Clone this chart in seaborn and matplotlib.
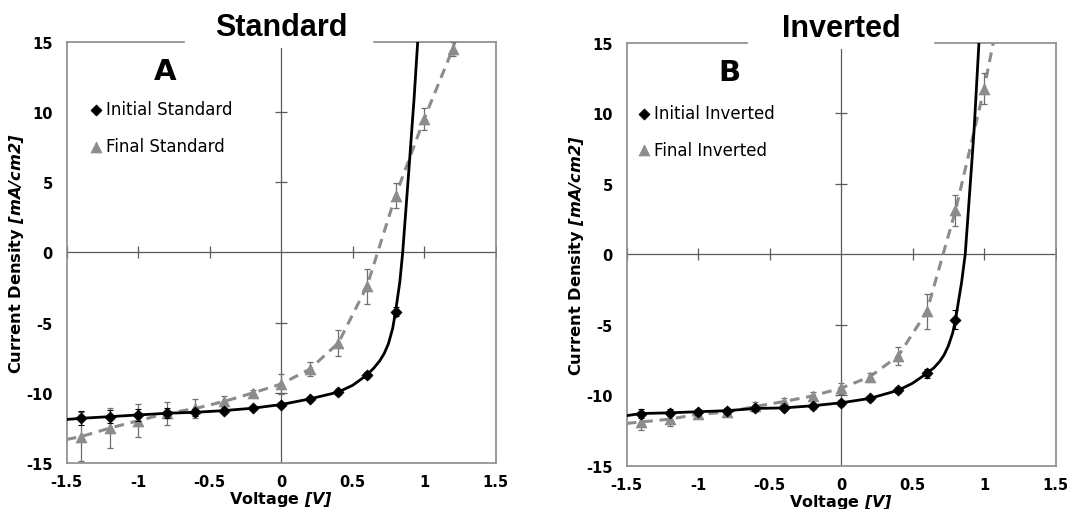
import matplotlib
matplotlib.use("Agg")
import matplotlib.pyplot as plt
import seaborn as sns
import numpy as np

# ---------------------------------------------------------------------------
# data (voltage in V, current density in mA/cm2)
# ---------------------------------------------------------------------------
v_pts = [-1.4, -1.2, -1.0, -0.8, -0.6, -0.4, -0.2, 0.0, 0.2, 0.4, 0.6, 0.8]
v_final_std = v_pts + [1.0, 1.2]
v_final_inv = v_pts + [1.0]

std_initial_j = [-11.8, -11.68, -11.56, -11.44, -11.37, -11.25, -11.08, -10.82,
                 -10.42, -9.93, -8.72, -4.21]
std_initial_err = [0.5, 0.45, 0.45, 0.35, 0.25, 0.2, 0.15, 0.2, 0.15, 0.2, 0.2, 0.3]
std_final_j = [-13.1, -12.5, -11.97, -11.45, -11.1, -10.6, -10.0, -9.36, -8.3,
               -6.44, -2.4, 4.04, 9.5, 14.48]
std_final_err = [1.75, 1.42, 1.19, 0.83, 0.7, 0.4, 0.25, 0.7, 0.5, 0.95, 1.25,
                 0.9, 0.77, 0.5]

inv_initial_j = [-11.3, -11.25, -11.17, -11.1, -10.94, -10.9, -10.75, -10.54,
                 -10.23, -9.65, -8.45, -4.64]
inv_initial_err = [0.3, 0.25, 0.2, 0.2, 0.2, 0.2, 0.2, 0.2, 0.2, 0.2, 0.3, 0.7]
inv_final_j = [-11.9, -11.7, -11.35, -11.2, -10.8, -10.45, -10.05, -9.5, -8.7,
               -7.21, -4.05, 3.1, 11.73]
inv_final_err = [0.6, 0.45, 0.2, 0.2, 0.3, 0.25, 0.3, 0.4, 0.3, 0.63, 1.23,
                 1.13, 1.1]

# fitted curves as drawn in the figure
std_fit_v = [-1.5, -1.4, -1.2, -1.0, -0.8, -0.6, -0.4, -0.2, 0.0, 0.2, 0.4, 0.5,
             0.6, 0.65, 0.69, 0.72, 0.75, 0.78, 0.8, 0.83, 0.85, 0.875, 0.9,
             0.93, 0.955]
std_fit_j = [-11.88, -11.8, -11.68, -11.56, -11.44, -11.37, -11.25, -11.08,
             -10.82, -10.42, -9.93, -9.45, -8.72, -8.2, -7.7, -7.2, -6.5, -5.4,
             -4.21, -2.1, 0.0, 3.4, 6.8, 11.0, 15.0]
inv_fit_v = [-1.5, -1.4, -1.2, -1.0, -0.8, -0.6, -0.4, -0.2, 0.0, 0.2, 0.4, 0.5,
             0.6, 0.65, 0.69, 0.72, 0.75, 0.78, 0.8, 0.843, 0.868, 0.9, 0.93,
             0.964]
inv_fit_j = [-11.45, -11.3, -11.25, -11.17, -11.1, -10.94, -10.9, -10.75, -10.54,
             -10.23, -9.65, -9.15, -8.45, -8.05, -7.6, -7.15, -6.5, -5.6, -4.64,
             -1.97, 0.0, 4.5, 8.8, 15.0]
std_dash_v = [-1.5] + v_final_std + [1.215]
std_dash_j = [-13.3] + std_final_j + [15.0]
inv_dash_v = [-1.5] + v_final_inv + [1.064]
inv_dash_j = [-12.0] + inv_final_j + [15.0]

x_ticks = [-1.5, -1, -0.5, 0, 0.5, 1, 1.5]
x_ticklabels = ["-1.5", "-1", "-0.5", "0", "0.5", "1", "1.5"]
y_ticks = [-15, -10, -5, 0, 5, 10, 15]
y_ticklabels = ["-15", "-10", "-5", "0", "5", "10", "15"]

panels = [
    dict(title="Standard", letter="A", lab_i="Initial Standard",
         lab_f="Final Standard", ji=std_initial_j, ei=std_initial_err,
         vf=v_final_std, jf=std_final_j, ef=std_final_err,
         fit_v=std_fit_v, fit_j=std_fit_j, dash_v=std_dash_v, dash_j=std_dash_j,
         gap=(0.273, 0.717), letter_xy=(-0.81, 12.9), leg=(0.056, 0.861)),
    dict(title="Inverted", letter="B", lab_i="Initial Inverted",
         lab_f="Final Inverted", ji=inv_initial_j, ei=inv_initial_err,
         vf=v_final_inv, jf=inv_final_j, ef=inv_final_err,
         fit_v=inv_fit_v, fit_j=inv_fit_j, dash_v=inv_dash_v, dash_j=inv_dash_j,
         gap=(0.28, 0.72), letter_xy=(-0.78, 12.9), leg=(0.029, 0.855)),
]

sns.set_style("white")
plt.rcParams["font.family"] = ["DejaVu Sans"]
plt.rcParams["axes.unicode_minus"] = False
plt.rcParams["text.color"] = "black"
plt.rcParams["axes.labelcolor"] = "black"
plt.rcParams["xtick.color"] = "black"
plt.rcParams["ytick.color"] = "black"
plt.rcParams["mathtext.fontset"] = "custom"
plt.rcParams["mathtext.bfit"] = "DejaVu Sans:italic:bold"
plt.rcParams["mathtext.bf"] = "DejaVu Sans:bold"
plt.rcParams["mathtext.rm"] = "DejaVu Sans"
plt.rcParams["mathtext.it"] = "DejaVu Sans:italic"

spine_c = "#8a8a8a"
gray = "#8c8c8c"

fig = plt.figure(figsize=(10.67, 5.10), dpi=100)
ax_pos = [[0.0625, 0.0896, 0.402, 0.8267], [0.5873, 0.0849, 0.402, 0.8294]]

for p, pos in zip(panels, ax_pos):
    ax = fig.add_axes(pos)

    # fitted curve + dashed guide
    sns.lineplot(x=p["fit_v"], y=p["fit_j"], ax=ax, color="black", lw=2.0,
                 sort=False, estimator=None, zorder=4)
    sns.lineplot(x=p["dash_v"], y=p["dash_j"], ax=ax, color=gray, lw=2.2,
                 sort=False, estimator=None, linestyle=(0, (3.2, 2.2)), zorder=3)

    ax.errorbar(v_pts, p["ji"], yerr=p["ei"], fmt="none", ecolor="black",
                elinewidth=0.8, capsize=2.5, capthick=0.8, zorder=4)
    ax.errorbar(p["vf"], p["jf"], yerr=p["ef"], fmt="none", ecolor="#6f6f6f",
                elinewidth=0.9, capsize=2.5, capthick=0.9, zorder=3)

    sns.scatterplot(x=v_pts, y=p["ji"], ax=ax, marker="D", color="black",
                    s=32, edgecolor="black", linewidth=0.5, zorder=5,
                    label=p["lab_i"])
    sns.scatterplot(x=p["vf"], y=p["jf"], ax=ax, marker="^", color=gray,
                    s=62, edgecolor=gray, linewidth=0.5, zorder=3,
                    label=p["lab_f"])

    # axes crossing at zero, with their own tick marks
    ax.axhline(0, color="#5a5a5a", lw=0.9, zorder=1)
    ax.axvline(0, ymax=0.985, color="#5a5a5a", lw=0.9, zorder=1)
    ax.plot([t for t in x_ticks if t != 0], [0] * 6, ls="none", marker="|",
            ms=8, mew=0.9, color="#5a5a5a", zorder=1)
    ax.plot([0] * 4, [-10, -5, 5, 10], ls="none", marker="_", ms=9,
            mew=0.9, color="#5a5a5a", zorder=1)

    ax.set_xlim(-1.5, 1.5)
    ax.set_ylim(-15, 15)
    ax.set_xticks(x_ticks)
    ax.set_xticklabels(x_ticklabels)
    ax.set_yticks(y_ticks)
    ax.set_yticklabels(y_ticklabels)
    ax.tick_params(length=0, labelsize=10.5, pad=8)
    for lab in ax.get_xticklabels() + ax.get_yticklabels():
        lab.set_fontweight("bold")
    ax.tick_params(axis="y", pad=10)

    for s in ["left", "right", "bottom"]:
        ax.spines[s].set_color(spine_c)
        ax.spines[s].set_linewidth(1.2)
    ax.spines["top"].set_visible(False)
    g0, g1 = p["gap"]
    for seg in ([0, g0], [g1, 1]):
        ax.plot(seg, [1, 1], transform=ax.transAxes, color=spine_c, lw=1.2,
                clip_on=False, solid_capstyle="projecting")

    ax.set_title(p["title"], fontsize=22, fontweight="bold",
                 family="Liberation Sans", pad=4.8, color="black")
    ax.text(*p["letter_xy"], p["letter"], fontsize=21, fontweight="bold",
            ha="center", va="center", color="black")

    ax.set_xlabel(r"Voltage $\mathbfit{[V]}$", fontsize=11.5, fontweight="bold")
    ax.set_ylabel(r"Current Density $\mathbfit{[mA/cm2]}$", fontsize=11.7,
                  fontweight="bold")
    ax.xaxis.set_label_coords(0.5, -0.061)
    ax.yaxis.set_label_coords(-0.095, 0.5)

    ax.legend(loc="upper left", bbox_to_anchor=p["leg"], frameon=False,
              fontsize=12, handlelength=0.6, handletextpad=0.3, borderpad=0,
              borderaxespad=0, labelspacing=1.12)

fig.savefig("out.png", dpi=100, facecolor="white")
